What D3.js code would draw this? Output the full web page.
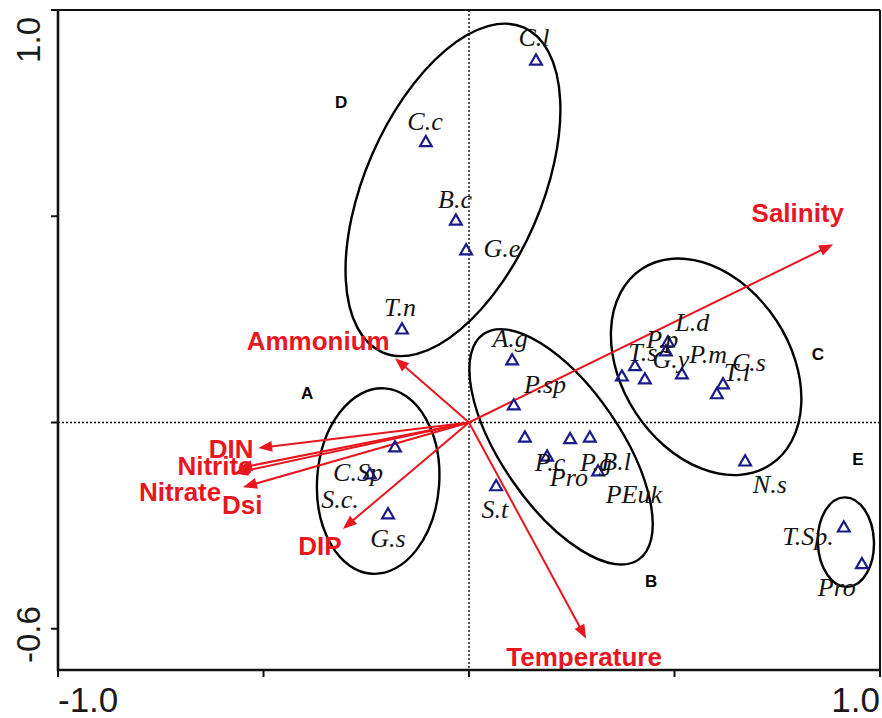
<!DOCTYPE html>
<html><head><meta charset="utf-8">
<script src="https://cdn.jsdelivr.net/npm/d3@7"></script>
<style>body{margin:0;background:#fff}</style>
</head><body>
<svg id="chart" width="882" height="718"></svg>
<script>
// ---------- DATA ----------
const xTicks = [-1, -0.5, 0, 0.5, 1];
const yTicks = [1, 0.5, 0, -0.5];
const xTickLabels = ["-1.0", "1.0"];
const xTickLabelValues = [-1, 1];
const yTickLabels = ["1.0", "-0.6"];
const yTickLabelValues = [1, -0.6];

// environmental vectors (arrow tips) and their label positions
const envNames = ["Salinity", "Ammonium", "DIN", "Nitrite", "Nitrate", "Dsi", "DIP", "Temperature"];
const envX = [0.886, -0.180, -0.513, -0.562, -0.572, -0.550, -0.307, 0.285];
const envY = [0.432, 0.156, -0.062, -0.111, -0.123, -0.157, -0.258, -0.524];
const envLabelX = [0.800, -0.367, -0.579, -0.618, -0.703, -0.552, -0.363, 0.280];
const envLabelY = [0.508, 0.198, -0.064, -0.105, -0.168, -0.200, -0.299, -0.568];

// species scores (triangles)
const pointX = [0.163, -0.105, -0.032, -0.007, -0.163, 0.105, 0.109,
                -0.180, -0.241, -0.197,
                0.136, 0.246, 0.294, 0.190, 0.314, 0.066,
                0.372, 0.404, 0.428, 0.484, 0.479, 0.518, 0.618, 0.603,
                0.672, 0.912, 0.956];
const pointY = [0.876, 0.678, 0.488, 0.416, 0.224, 0.149, 0.040,
                -0.062, -0.127, -0.224,
                -0.038, -0.042, -0.038, -0.084, -0.120, -0.156,
                0.110, 0.135, 0.103, 0.193, 0.171, 0.115, 0.091, 0.067,
                -0.096, -0.256, -0.345];

// species labels
const speciesNames = ["C.l", "C.c", "B.c", "G.e", "T.n", "A.g", "P.sp",
                      "C.Sp", "S.c.", "G.s",
                      "P.c", "P.g", "B.l", "Pro", "PEuk", "S.t",
                      "L.d", "P.p", "T.s", "G.y", "P.m", "C.s", "T.l",
                      "N.s", "T.Sp.", "Pro"];
const speciesLabelX = [0.158, -0.107, -0.034, 0.080, -0.168, 0.100, 0.185,
                       -0.270, -0.314, -0.197,
                       0.197, 0.309, 0.358, 0.243, 0.401, 0.063,
                       0.543, 0.470, 0.423, 0.491, 0.582, 0.681, 0.652,
                       0.732, 0.825, 0.895];
const speciesLabelY = [0.932, 0.728, 0.539, 0.421, 0.278, 0.202, 0.091,
                       -0.122, -0.188, -0.282,
                       -0.098, -0.098, -0.096, -0.135, -0.176, -0.212,
                       0.241, 0.200, 0.168, 0.152, 0.164, 0.144, 0.120,
                       -0.152, -0.278, -0.401];

// group letters
const groupNames = ["D", "A", "C", "B", "E"];
const groupX = [-0.311, -0.394, 0.849, 0.443, 0.946];
const groupY = [0.777, 0.072, 0.166, -0.384, -0.088];

// group ellipses (centre, semi-axes in axis units, rotation in degrees)
const ellCX = [-0.039, -0.221, 0.224, 0.577, 0.917];
const ellCY = [0.564, -0.142, -0.059, 0.135, -0.290];
const ellRX = [0.431, 0.226, 0.333, 0.285, 0.109];
const ellRY = [0.214, 0.148, 0.144, 0.204, 0.068];
const ellAngle = [-66.5, -86, 55.5, 56.8, 88];

// ---------- DRAW ----------
const svg = d3.select("#chart");
const x = d3.scaleLinear().domain([-1, 1]).range([58, 880]);
const y = d3.scaleLinear().domain([-0.6, 1]).range([670, 10]);
const RED = "#e8161f";
const NAVY = "#1a1a8a";

// dotted zero lines
svg.append("line").attr("x1", x(-1)).attr("x2", x(1)).attr("y1", y(0)).attr("y2", y(0))
  .attr("stroke", "#000").attr("stroke-width", 1.3).attr("stroke-dasharray", "2,2");
svg.append("line").attr("x1", x(0)).attr("x2", x(0)).attr("y1", y(1)).attr("y2", y(-0.6))
  .attr("stroke", "#000").attr("stroke-width", 1.3).attr("stroke-dasharray", "2,2");

// ellipses
ellCX.forEach((cx, i) => {
  const rxPx = x(cx + ellRX[i]) - x(cx);
  const ryPx = y(0) - y(ellRY[i]);
  svg.append("ellipse")
    .attr("transform", `translate(${x(cx)},${y(ellCY[i])}) rotate(${ellAngle[i]})`)
    .attr("rx", rxPx).attr("ry", ryPx)
    .attr("fill", "none").attr("stroke", "#000").attr("stroke-width", 2.4);
});

// arrows
const ox = x(0), oy = y(0);
envNames.forEach((n, i) => {
  const tx = x(envX[i]), ty = y(envY[i]);
  const dx = tx - ox, dy = ty - oy, len = Math.hypot(dx, dy);
  const ux = dx / len, uy = dy / len;
  const hl = 14, hw = 5.5;
  const bx = tx - ux * hl, by = ty - uy * hl;
  svg.append("line").attr("x1", ox).attr("y1", oy).attr("x2", bx + ux * 3).attr("y2", by + uy * 3)
    .attr("stroke", RED).attr("stroke-width", 2);
  svg.append("polygon")
    .attr("points", [[tx, ty], [bx - uy * hw, by + ux * hw], [bx + uy * hw, by - ux * hw]].map(p => p.join(",")).join(" "))
    .attr("fill", RED);
});

// triangles
const tri = d3.symbol().type(d3.symbolTriangle).size(60);
pointX.forEach((px, i) => {
  svg.append("path").attr("d", tri())
    .attr("transform", `translate(${x(px)},${y(pointY[i])})`)
    .attr("fill", "none").attr("stroke", NAVY).attr("stroke-width", 2.2);
});

// species labels
speciesNames.forEach((n, i) => {
  svg.append("text").attr("x", x(speciesLabelX[i])).attr("y", y(speciesLabelY[i]))
    .attr("dy", "0.3em").attr("text-anchor", "middle")
    .attr("font-family", "'Liberation Serif', 'Times New Roman', serif")
    .attr("font-style", "italic").attr("font-size", 26).attr("fill", "#141414")
    .text(n);
});

// env labels
envNames.forEach((n, i) => {
  svg.append("text").attr("x", x(envLabelX[i])).attr("y", y(envLabelY[i]))
    .attr("dy", "0.36em").attr("text-anchor", "middle")
    .attr("font-family", "'Liberation Sans', Arial, sans-serif")
    .attr("font-weight", "bold").attr("font-size", 26).attr("fill", RED)
    .text(n);
});

// group letters
groupNames.forEach((n, i) => {
  svg.append("text").attr("x", x(groupX[i])).attr("y", y(groupY[i]))
    .attr("dy", "0.36em").attr("text-anchor", "middle")
    .attr("font-family", "'Liberation Sans', Arial, sans-serif")
    .attr("font-weight", "bold").attr("font-size", 17).attr("fill", "#000")
    .text(n);
});

// frame
svg.append("line").attr("x1", x(-1)).attr("x2", x(1)).attr("y1", y(1)).attr("y2", y(1))
  .attr("stroke", "#111").attr("stroke-width", 2);
svg.append("line").attr("x1", x(1)).attr("x2", x(1)).attr("y1", y(1)).attr("y2", y(-0.6))
  .attr("stroke", "#111").attr("stroke-width", 2);
svg.append("line").attr("x1", x(-1)).attr("x2", x(-1)).attr("y1", y(1) - 1).attr("y2", y(-0.6) + 1)
  .attr("stroke", "#111").attr("stroke-width", 2.6);
svg.append("line").attr("x1", x(-1) - 1).attr("x2", x(1) + 1).attr("y1", y(-0.6)).attr("y2", y(-0.6))
  .attr("stroke", "#111").attr("stroke-width", 2.6);

// ticks
yTicks.forEach(v => {
  svg.append("line").attr("x1", x(-1) - 7).attr("x2", x(-1)).attr("y1", y(v)).attr("y2", y(v))
    .attr("stroke", "#111").attr("stroke-width", 2);
});
xTicks.forEach(v => {
  svg.append("line").attr("x1", x(v)).attr("x2", x(v)).attr("y1", y(-0.6)).attr("y2", y(-0.6) + 7)
    .attr("stroke", "#111").attr("stroke-width", 2);
});

// tick labels
xTickLabels.forEach((t, i) => {
  svg.append("text").attr("x", x(xTickLabelValues[i])).attr("y", 712)
    .attr("text-anchor", i === 0 ? "start" : "end")
    .attr("font-family", "'Liberation Sans', Arial, sans-serif")
    .attr("font-size", 35).attr("fill", "#1a1a1a").text(t);
});
yTickLabels.forEach((t, i) => {
  const yy = i === 0 ? y(yTickLabelValues[i]) + 7 : y(yTickLabelValues[i]) - 7;
  svg.append("text").attr("transform", `translate(40,${yy}) rotate(-90)`)
    .attr("text-anchor", i === 0 ? "end" : "start")
    .attr("font-family", "'Liberation Sans', Arial, sans-serif")
    .attr("font-size", 33).attr("fill", "#1a1a1a").text(t);
});
</script>
</body></html>
